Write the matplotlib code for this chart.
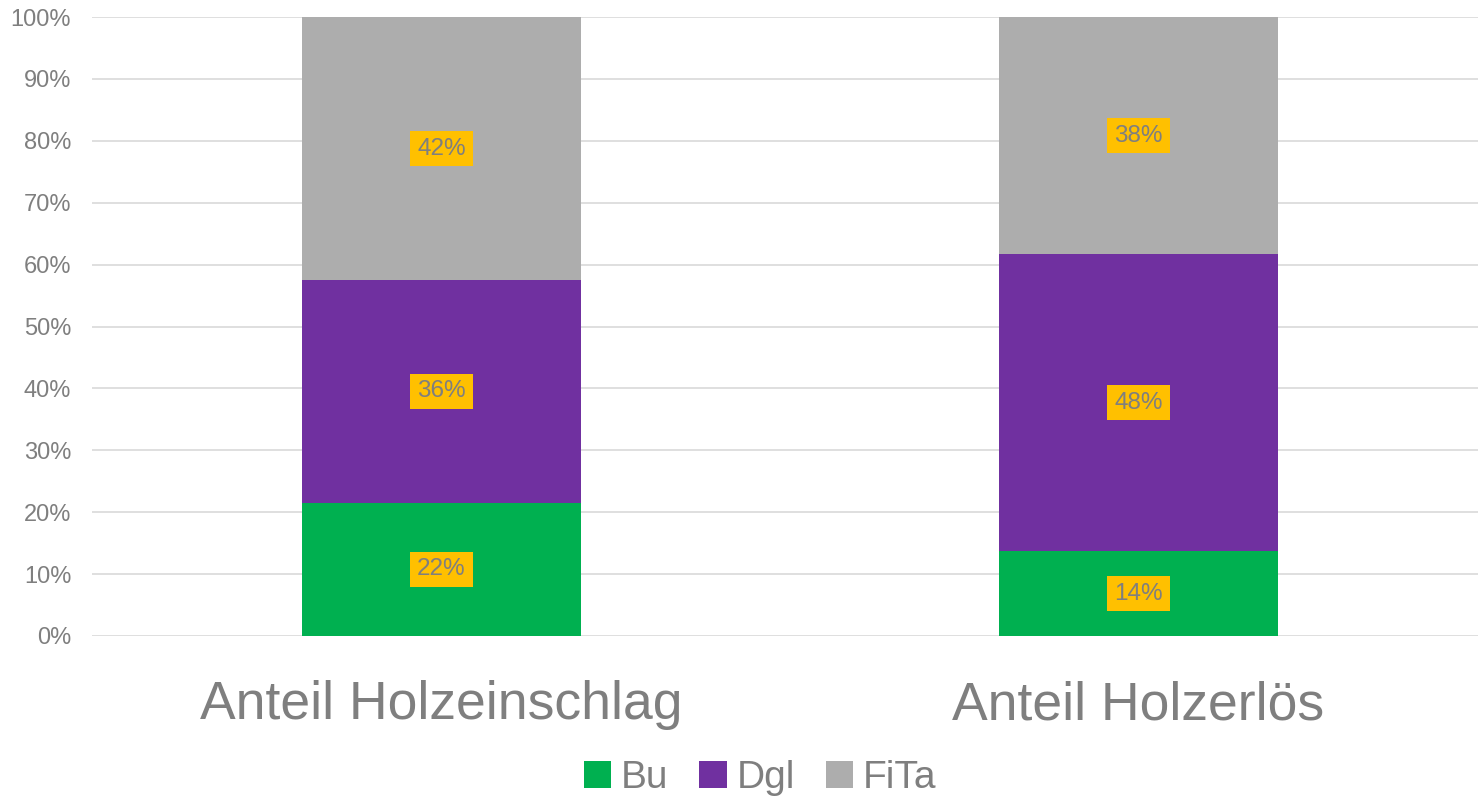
import matplotlib
matplotlib.use("Agg")
import matplotlib.pyplot as plt
from matplotlib.ticker import PercentFormatter

plt.rcParams['font.family'] = ['Liberation Sans', 'DejaVu Sans']

# data
categories = ['Anteil Holzeinschlag', 'Anteil Holzerlös']
series = ['Bu', 'Dgl', 'FiTa']
bu = [21.5, 13.7]
dgl = [36.0, 48.0]
fita = [42.5, 38.3]
colors = ['#00B050', '#7030A0', '#ADADAD']

fig = plt.figure(figsize=(14.78, 8.01), dpi=100)
ax = fig.add_axes([92 / 1478, 165 / 801, 1386 / 1478, 619 / 801])

x = list(range(len(categories)))
bottom = [0.0] * len(categories)
for name, vals, col in zip(series, [bu, dgl, fita], colors):
    bars = ax.bar(x, vals, width=0.4, bottom=bottom, color=col, label=name, zorder=2)
    for b, v, y0 in zip(bars, vals, bottom):
        ax.text(b.get_x() + b.get_width() / 2, y0 + v / 2, f'{round(v):.0f}%',
                ha='center', va='center', fontsize=17.5, color='#7F7F7F',
                bbox=dict(boxstyle='square,pad=0.28', fc='#FFC000', ec='none'), zorder=3)
    bottom = [a + b for a, b in zip(bottom, vals)]

ax.set_ylim(0, 100)
ax.set_xlim(-0.5014, 1.487)
ax.set_yticks(range(0, 101, 10))
ax.yaxis.set_major_formatter(PercentFormatter(decimals=0))
ax.set_xticks(x)
ax.set_xticklabels(categories, fontsize=38.5, color='#7F7F7F')
ax.tick_params(axis='y', labelsize=17, labelcolor='#7F7F7F', length=0, pad=15)
ax.tick_params(axis='x', length=0, pad=32)
ax.grid(axis='y', color='#D9D9D9', linewidth=1.2, zorder=0)
for s in ax.spines.values():
    s.set_visible(False)

leg = ax.legend(loc='center', bbox_to_anchor=(0.5 * 1 + (760 - 92 - 693) / 1386, -0.23),
                ncol=3, frameon=False, fontsize=28, handlelength=0.7, handleheight=0.7,
                handletextpad=0.25, columnspacing=0.8, labelcolor='#7F7F7F')

fig.savefig('out.png', dpi=100)
